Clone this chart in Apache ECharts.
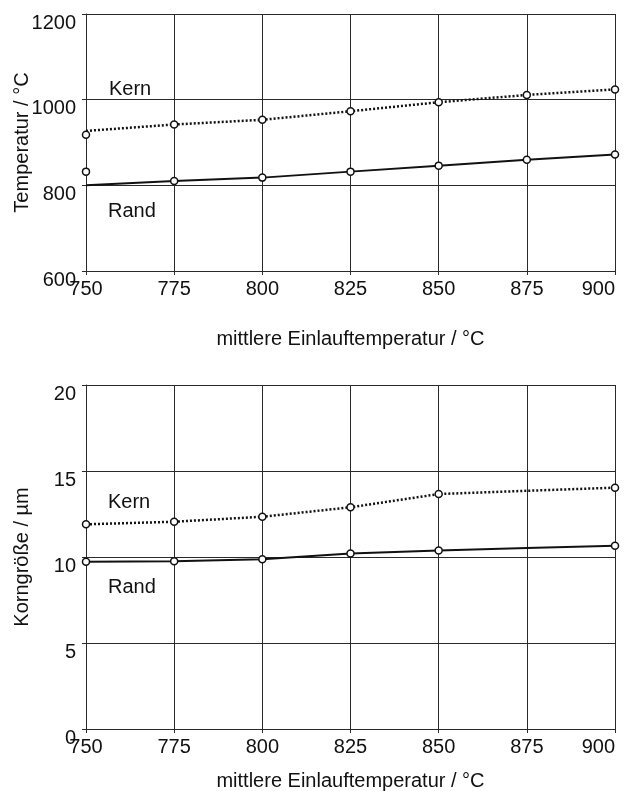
<!DOCTYPE html>
<html>
<head>
<meta charset="utf-8">
<script src="https://cdn.jsdelivr.net/npm/echarts@6/dist/echarts.min.js"></script>
<style>html,body{margin:0;padding:0;background:#fff}#c{width:624px;height:791px}</style>
</head>
<body>
<div id="c"></div>
<script>
var xValues = [750, 775, 800, 825, 850, 875, 900];
// Top chart: Temperatur / °C
var tempKernLine = [927, 942, 953, 973, 994, 1011, 1024];
var tempKernMarks = [918, 942, 953, 973, 994, 1011, 1024];
var tempRandLine = [800, 810, 818, 832, 846, 860, 872];
var tempRandMarks = [832, 810, 818, 832, 846, 860, 872];
// Bottom chart: Korngröße / µm
var kornKernLine = [11.9, 12.05, 12.34, 12.89, 13.66, 13.85, 14.03];
var kornKernMarks = [11.9, 12.05, 12.34, 12.89, 13.66, null, 14.03];
var kornRandLine = [9.73, 9.75, 9.87, 10.2, 10.38, 10.52, 10.66];
var kornRandMarks = [9.73, 9.75, 9.87, 10.2, 10.38, null, 10.66];

function pairs(vals) { return xValues.map(function (x, i) { return [x, vals[i]]; }); }

var FONT = 'Liberation Sans, Arial, sans-serif';
var GRID_COLOR = '#2a2a2a';
function plain(v) { return String(v); }

function xAxis(gridIndex, gap) {
  return {
    type: 'value', gridIndex: gridIndex, min: 750, max: 900, interval: 25,
    name: 'mittlere Einlauftemperatur / °C', nameLocation: 'middle', nameGap: gap,
    nameMoveOverlap: false,
    nameTextStyle: { fontFamily: FONT, fontSize: 20, color: '#111' },
    axisLine: { show: true, lineStyle: { color: GRID_COLOR, width: 1 } },
    axisTick: { show: true, length: 4, lineStyle: { color: GRID_COLOR } },
    axisLabel: { fontFamily: FONT, fontSize: 20, color: '#111', margin: 8, formatter: plain,
      alignMaxLabel: 'right', hideOverlap: false },
    splitLine: { show: true, lineStyle: { color: GRID_COLOR, width: 1 } }
  };
}
function yAxis(gridIndex, name, min, max, interval) {
  return {
    type: 'value', gridIndex: gridIndex, min: min, max: max, interval: interval,
    name: name, nameLocation: 'middle', nameGap: 54, nameMoveOverlap: false,
    nameTextStyle: { fontFamily: FONT, fontSize: 20, color: '#111' },
    axisLine: { show: true, lineStyle: { color: GRID_COLOR, width: 1 } },
    axisTick: { show: true, length: 4, lineStyle: { color: GRID_COLOR } },
    axisLabel: { fontFamily: FONT, fontSize: 20, color: '#111', margin: 10, verticalAlign: 'top', lineHeight: 18, formatter: plain },
    splitLine: { show: true, lineStyle: { color: GRID_COLOR, width: 1 } }
  };
}
function lineSeries(idx, vals, dotted) {
  return {
    type: 'line', xAxisIndex: idx, yAxisIndex: idx, data: pairs(vals),
    symbol: 'none', silent: true, animation: false,
    lineStyle: { color: '#111', width: dotted ? 2.5 : 2, type: dotted ? [2, 2] : 'solid' },
    z: 3
  };
}
function markSeries(idx, vals) {
  return {
    type: 'scatter', xAxisIndex: idx, yAxisIndex: idx,
    data: pairs(vals).filter(function (p) { return p[1] !== null; }),
    symbol: 'circle', symbolSize: 7, silent: true, animation: false,
    itemStyle: { color: '#fff', borderColor: '#111', borderWidth: 1.5, opacity: 1 },
    z: 4
  };
}
function label(text, x, y) {
  return { type: 'text', left: x, top: y, style: { text: text, font: '20px ' + FONT, fill: '#111' } };
}

var chart = echarts.init(document.getElementById('c'), null, { renderer: 'canvas' });
chart.setOption({
  backgroundColor: '#fff',
  animation: false,
  grid: [
    { left: 86, top: 14, width: 529, height: 257, containLabel: false, outerBoundsMode: 'none' },
    { left: 86, top: 385, width: 529, height: 344, containLabel: false, outerBoundsMode: 'none' }
  ],
  xAxis: [xAxis(0, 58), xAxis(1, 42)],
  yAxis: [yAxis(0, 'Temperatur / °C', 600, 1200, 200), yAxis(1, 'Korngröße / µm', 0, 20, 5)],
  series: [
    lineSeries(0, tempKernLine, true), lineSeries(0, tempRandLine, false),
    markSeries(0, tempKernMarks), markSeries(0, tempRandMarks),
    lineSeries(1, kornKernLine, true), lineSeries(1, kornRandLine, false),
    markSeries(1, kornKernMarks), markSeries(1, kornRandMarks)
  ],
  graphic: [
    label('Kern', 109, 79), label('Rand', 108, 201),
    label('Kern', 108, 492), label('Rand', 108, 577)
  ]
});
</script>
</body>
</html>
